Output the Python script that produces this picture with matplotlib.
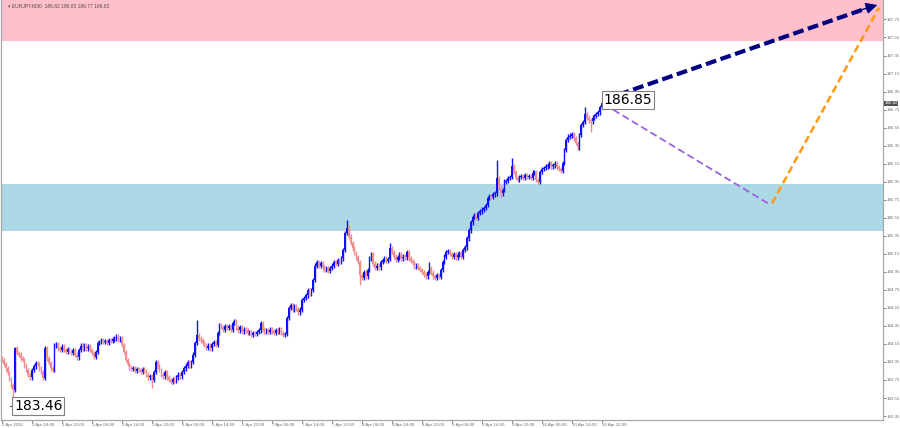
import numpy as np
from matplotlib import pyplot as plt

# EURJPY M30 closes, one per bar (bar 0 = 2 Apr 06:00)
closes = [
    183.97, 183.93, 183.88, 183.83, 183.76, 183.69, 183.64, 184.10,
    184.05, 184.03, 183.99, 183.97, 183.91, 183.86, 183.81, 183.78,
    183.86, 183.90, 183.94, 183.93, 183.88, 183.84, 183.77, 184.10,
    183.99, 183.94, 183.88, 183.86, 184.13, 184.15, 184.10, 184.08,
    184.12, 184.08, 184.06, 184.09, 184.07, 184.05, 184.08, 184.03,
    184.00, 184.08, 184.13, 184.10, 184.14, 184.10, 184.12, 184.08,
    184.05, 184.01, 184.06, 184.16, 184.17, 184.19, 184.17, 184.18,
    184.16, 184.19, 184.18, 184.20, 184.21, 184.23, 184.20, 184.21,
    184.14, 184.06, 183.97, 183.93, 183.89, 183.87, 183.88, 183.85,
    183.87, 183.86, 183.84, 183.87, 183.85, 183.81, 183.78, 183.79,
    183.75, 183.84, 183.95, 183.90, 183.86, 183.81, 183.79, 183.84,
    183.78, 183.75, 183.73, 183.76, 183.74, 183.78, 183.81, 183.79,
    183.84, 183.88, 183.91, 183.95, 183.91, 183.95, 184.03, 184.16,
    184.25, 184.21, 184.19, 184.16, 184.14, 184.11, 184.13, 184.10,
    184.15, 184.17, 184.14, 184.27, 184.36, 184.34, 184.31, 184.35,
    184.33, 184.35, 184.31, 184.38, 184.40, 184.33, 184.30, 184.34,
    184.29, 184.31, 184.30, 184.27, 184.28, 184.25, 184.27, 184.26,
    184.28, 184.30, 184.38, 184.31, 184.29, 184.30, 184.28, 184.31,
    184.29, 184.27, 184.30, 184.28, 184.31, 184.27, 184.25, 184.26,
    184.44, 184.55, 184.58, 184.53, 184.57, 184.54, 184.50, 184.53,
    184.64, 184.66, 184.69, 184.75, 184.71, 184.75, 184.86, 185.02,
    185.06, 185.02, 185.05, 185.00, 184.97, 184.99, 184.96, 184.99,
    185.02, 185.06, 185.04, 185.08, 185.06, 185.10, 185.19, 185.38,
    185.44, 185.34, 185.27, 185.21, 185.16, 185.11, 185.06, 184.91,
    184.88, 184.95, 184.90, 184.97, 185.10, 185.15, 185.04, 184.99,
    185.02, 185.00, 185.06, 185.08, 185.10, 185.07, 185.09, 185.21,
    185.17, 185.12, 185.08, 185.11, 185.14, 185.10, 185.12, 185.11,
    185.17, 185.10, 185.07, 185.05, 185.01, 185.02, 184.99, 184.97,
    184.95, 184.92, 184.90, 184.95, 184.99, 184.94, 184.90, 184.88,
    184.91, 184.89, 184.97, 185.06, 185.12, 185.17, 185.18, 185.15,
    185.12, 185.15, 185.11, 185.14, 185.16, 185.12, 185.19, 185.22,
    185.32, 185.41, 185.50, 185.56, 185.58, 185.55, 185.60, 185.62,
    185.64, 185.66, 185.69, 185.77, 185.79, 185.78, 185.81, 185.82,
    185.99, 185.88, 185.82, 185.86, 185.95, 185.96, 185.99, 186.00,
    186.12, 186.06, 185.99, 185.97, 186.00, 186.01, 185.99, 186.02,
    186.00, 186.01, 185.99, 186.05, 186.06, 185.97, 185.95, 186.06,
    186.09, 186.10, 186.12, 186.13, 186.16, 186.12, 186.13, 186.15,
    186.11, 186.09, 186.07, 186.16, 186.30, 186.41, 186.45, 186.46,
    186.48, 186.43, 186.38, 186.33, 186.47, 186.58, 186.61, 186.70,
    186.66, 186.63, 186.62, 186.66, 186.68, 186.70, 186.72, 186.78,
    186.82, 186.82,
]
first_open = 183.99
# bars with longer shadows
spike_highs = {7: 184.12, 104: 184.41, 184: 185.53, 207: 185.27, 228: 185.06,
               264: 186.19, 272: 186.21, 311: 186.78, 320: 186.85}
spike_lows = {6: 183.46, 80: 183.66, 191: 184.80, 266: 185.77, 307: 186.30, 314: 186.50}

tick_labels = ['2 Apr 2026', '2 Apr 14:00', '2 Apr 22:00', '3 Apr 06:00', '3 Apr 14:00',
               '3 Apr 22:00', '6 Apr 06:00', '6 Apr 14:00', '6 Apr 22:00', '7 Apr 06:00',
               '7 Apr 14:00', '7 Apr 22:00', '8 Apr 06:00', '8 Apr 14:00', '8 Apr 22:00',
               '9 Apr 06:00', '9 Apr 14:00', '9 Apr 22:00', '10 Apr 06:00', '10 Apr 14:00',
               '10 Apr 22:00']
bars_per_label = 16

sell_zone = (187.51, 188.2)
buy_zone = (185.40, 185.92)
# forecast paths (bar index, price)
main_arrow = [(321.1, 186.86), (468.3, 187.92)]
pullback = [(321.1, 186.81), (408.5, 185.71)]
rebound = [(410.7, 185.71), (467.7, 187.88)]

WICK = 0.025
UP, DOWN = '#1010ff', '#f28c8c'
SMALL = ['Liberation Sans', 'DejaVu Sans']

c = np.array(closes)
o = np.array([first_open] + closes[:-1])
hi = np.maximum(o, c) + WICK
lo = np.minimum(o, c) - WICK
for k, v in spike_highs.items():
    hi[k] = v
for k, v in spike_lows.items():
    lo[k] = v
x = np.arange(len(c))
col = np.where(c >= o, UP, DOWN)

fig = plt.figure(figsize=(9, 4.28), dpi=100)
ax = fig.add_axes([1 / 900, 8 / 428, 882 / 900, 420 / 428])
ax.set_xlim(-0.53, 469.9)
ax.set_ylim(183.306, 187.966)

ax.axhspan(*sell_zone, color='#ffc0cb', lw=0, zorder=0)
ax.axhspan(*buy_zone, color='#add8e6', lw=0, zorder=0)

ax.vlines(x, lo, hi, colors=col, lw=1.0, zorder=2)
ax.bar(x, np.maximum(np.abs(c - o), 0.008), bottom=np.minimum(o, c), width=0.9,
       color=col, lw=0, zorder=3)

(px, py) = zip(*pullback)
ax.plot(px, py, color='#9b62dd', lw=1.3, dashes=(4, 2), zorder=4)
(rx, ry) = zip(*rebound)
ax.plot(rx, ry, color='#ff9a10', lw=1.8, dashes=(3, 1.6), zorder=4)
(mx, my) = zip(*main_arrow)
ax.plot([mx[0], mx[1] - 7], [my[0], my[1] - 0.045], color='#000080', lw=3,
        dashes=(2.6, 1.1), zorder=5)
ax.annotate('', xy=main_arrow[1], xytext=(mx[1] - 12, my[1] - 0.076),
            arrowprops=dict(arrowstyle='-|>', mutation_scale=17, color='#000080', lw=1),
            zorder=6)

ax.text(321, 186.855, '186.85', fontsize=10, va='center', ha='left', zorder=7,
        bbox=dict(boxstyle='square,pad=0.12', fc='white', ec='#808080', lw=0.8))
ax.plot([4.2, 6.1], [183.46, 183.46], color='#606060', lw=0.8, zorder=7)
ax.text(6.4, 183.46, '183.46', fontsize=10, va='center', ha='left', zorder=7,
        bbox=dict(boxstyle='square,pad=0.12', fc='white', ec='#808080', lw=0.8))

fig.text(8 / 900, 1 - 6 / 428, '\u25be EURJPY,M30  186.82 186.83 186.77 186.82',
         fontsize=3.6, color='#505050', va='center', family=SMALL)

# axes and ticks
for s in ['left', 'bottom', 'right']:
    ax.spines[s].set_color('#a8a8a8')
    ax.spines[s].set_linewidth(0.9)
ax.spines['top'].set_visible(False)
ax.yaxis.tick_right()
yt = np.round(np.arange(183.35, 187.80, 0.2), 2)
ax.set_yticks(yt, ['%.2f' % v for v in yt])
ax.tick_params(axis='y', labelsize=3.2, colors='#707070', length=2, width=0.6, pad=0.8)
ax.set_xticks(np.arange(len(tick_labels)) * bars_per_label, tick_labels)
ax.tick_params(axis='x', labelsize=3.2, colors='#707070', length=2, width=0.6, pad=0.4)
for lbl in ax.get_xticklabels() + ax.get_yticklabels():
    lbl.set_family(SMALL)
for lbl in ax.get_xticklabels():
    lbl.set_ha('left')
ax.text(1.0015, c[-1], '%.2f' % c[-1], transform=ax.get_yaxis_transform(), fontsize=3.2,
        color='white', va='center', ha='left', family=SMALL,
        bbox=dict(boxstyle='square,pad=0.12', fc='#505050', ec='none'))

plt.savefig('out.png', dpi=100)
